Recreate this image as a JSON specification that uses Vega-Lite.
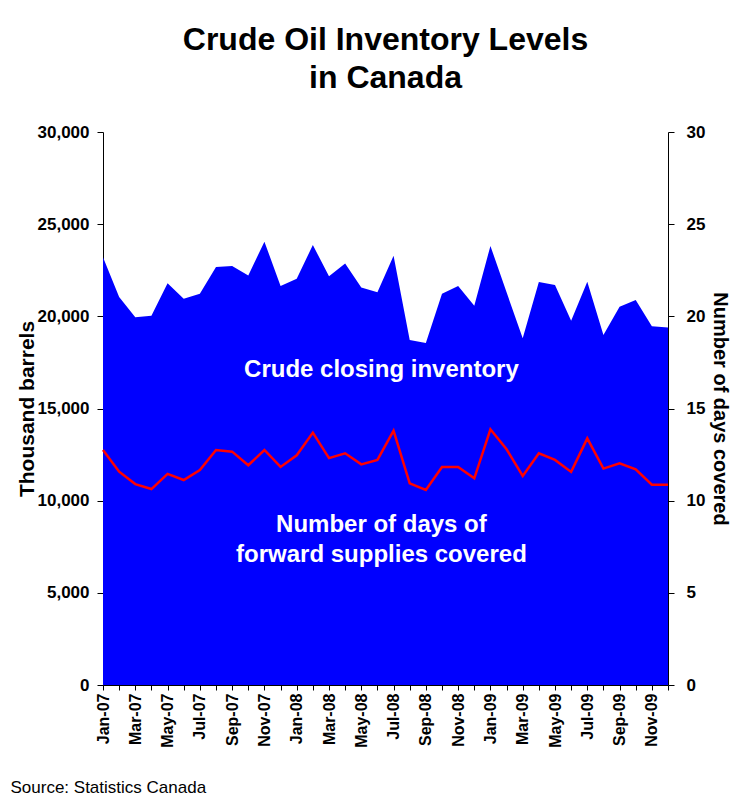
{
  "$schema": "https://vega.github.io/schema/vega-lite/v6.json",
  "width": 565,
  "height": 553,
  "autosize": "none",
  "padding": {"left": 103, "top": 132, "right": 68, "bottom": 125},
  "background": "white",
  "config": {
    "font": "Liberation Sans",
    "view": {"stroke": null},
    "axis": {"grid": false, "domainColor": "black", "tickColor": "black", "labelColor": "black", "titleColor": "black", "labelFontWeight": "bold", "labelFontSize": 17, "titleFontSize": 21, "titleFontWeight": "bold"}
  },
  "title": {
    "text": ["Crude Oil Inventory Levels", "in Canada"],
    "fontSize": 32,
    "fontWeight": "bold",
    "color": "black",
    "anchor": "middle",
    "offset": 28,
    "lineHeight": 38
  },
  "datasets": {
    "series": [
      {"month": "Jan-07", "inventory": 23200, "days": 12.75},
      {"month": "Feb-07", "inventory": 21050, "days": 11.57},
      {"month": "Mar-07", "inventory": 19950, "days": 10.9},
      {"month": "Apr-07", "inventory": 20030, "days": 10.63},
      {"month": "May-07", "inventory": 21790, "days": 11.45},
      {"month": "Jun-07", "inventory": 20960, "days": 11.12},
      {"month": "Jul-07", "inventory": 21230, "days": 11.66},
      {"month": "Aug-07", "inventory": 22680, "days": 12.75},
      {"month": "Sep-07", "inventory": 22730, "days": 12.66},
      {"month": "Oct-07", "inventory": 22220, "days": 11.92},
      {"month": "Nov-07", "inventory": 24050, "days": 12.75},
      {"month": "Dec-07", "inventory": 21650, "days": 11.83},
      {"month": "Jan-08", "inventory": 22040, "days": 12.46},
      {"month": "Feb-08", "inventory": 23870, "days": 13.69},
      {"month": "Mar-08", "inventory": 22170, "days": 12.31},
      {"month": "Apr-08", "inventory": 22860, "days": 12.57},
      {"month": "May-08", "inventory": 21570, "days": 11.97},
      {"month": "Jun-08", "inventory": 21300, "days": 12.21},
      {"month": "Jul-08", "inventory": 23290, "days": 13.8},
      {"month": "Aug-08", "inventory": 18720, "days": 10.94},
      {"month": "Sep-08", "inventory": 18550, "days": 10.58},
      {"month": "Oct-08", "inventory": 21230, "days": 11.83},
      {"month": "Nov-08", "inventory": 21650, "days": 11.83},
      {"month": "Dec-08", "inventory": 20580, "days": 11.21},
      {"month": "Jan-09", "inventory": 23820, "days": 13.87},
      {"month": "Feb-09", "inventory": 21300, "days": 12.79},
      {"month": "Mar-09", "inventory": 18810, "days": 11.34},
      {"month": "Apr-09", "inventory": 21860, "days": 12.57},
      {"month": "May-09", "inventory": 21700, "days": 12.21},
      {"month": "Jun-09", "inventory": 19760, "days": 11.56},
      {"month": "Jul-09", "inventory": 21880, "days": 13.38},
      {"month": "Aug-09", "inventory": 18990, "days": 11.74},
      {"month": "Sep-09", "inventory": 20520, "days": 12.03},
      {"month": "Oct-09", "inventory": 20890, "days": 11.7},
      {"month": "Nov-09", "inventory": 19460, "days": 10.87},
      {"month": "Dec-09", "inventory": 19400, "days": 10.87}
    ],
    "notes": [
      {"month": "Jun-08", "value": 17090, "label": "Crude closing inventory"},
      {"month": "Jun-08", "value": 8680, "label": "Number of days of"},
      {"month": "Jun-08", "value": 7050, "label": "forward supplies covered"}
    ]
  },
  "encoding": {
    "x": {
      "field": "month",
      "type": "ordinal",
      "sort": null,
      "scale": {"type": "point", "padding": 0},
      "axis": {
        "labelAngle": -90,
        "labelAlign": "right",
        "labelBaseline": "middle",
        "labelFontSize": 16,
        "labelPadding": 3,
        "tickSize": 5,
        "labelExpr": "test(/^(Jan|Mar|May|Jul|Sep|Nov)/, datum.value) ? datum.value : ''",
        "title": "Source:  Statistics Canada",
        "titleFontWeight": "normal",
        "titleFontSize": 17,
        "titleAnchor": "start",
        "titleAlign": "left",
        "titleBaseline": "middle",
        "titleX": -93,
        "titleY": 102
      }
    }
  },
  "layer": [
    {
      "data": {"name": "series"},
      "mark": {"type": "area", "color": "#0000FF", "opacity": 1},
      "encoding": {
        "y": {
          "field": "inventory",
          "type": "quantitative",
          "scale": {"domain": [0, 30000], "nice": false},
          "axis": {"orient": "left", "values": [0, 5000, 10000, 15000, 20000, 25000, 30000], "format": ",.0f", "tickSize": 6, "labelPadding": 8, "title": "Thousand barrels", "titlePadding": 0}
        }
      }
    },
    {
      "data": {"name": "notes"},
      "mark": {"type": "text", "color": "white", "fontSize": 24, "fontWeight": "bold", "align": "center", "baseline": "middle", "dx": 4},
      "encoding": {
        "y": {"field": "value", "type": "quantitative", "scale": {"domain": [0, 30000], "nice": false}, "axis": null},
        "text": {"field": "label"}
      }
    },
    {
      "data": {"name": "series"},
      "mark": {"type": "line", "color": "#FF0000", "strokeWidth": 2.5},
      "encoding": {
        "y": {
          "field": "days",
          "type": "quantitative",
          "scale": {"domain": [0, 30], "nice": false},
          "axis": {"orient": "right", "values": [0, 5, 10, 15, 20, 25, 30], "tickSize": 6, "labelPadding": 12, "title": "Number of days covered", "titleFontSize": 20, "titlePadding": 5}
        }
      }
    }
  ],
  "resolve": {"scale": {"y": "independent"}}
}
